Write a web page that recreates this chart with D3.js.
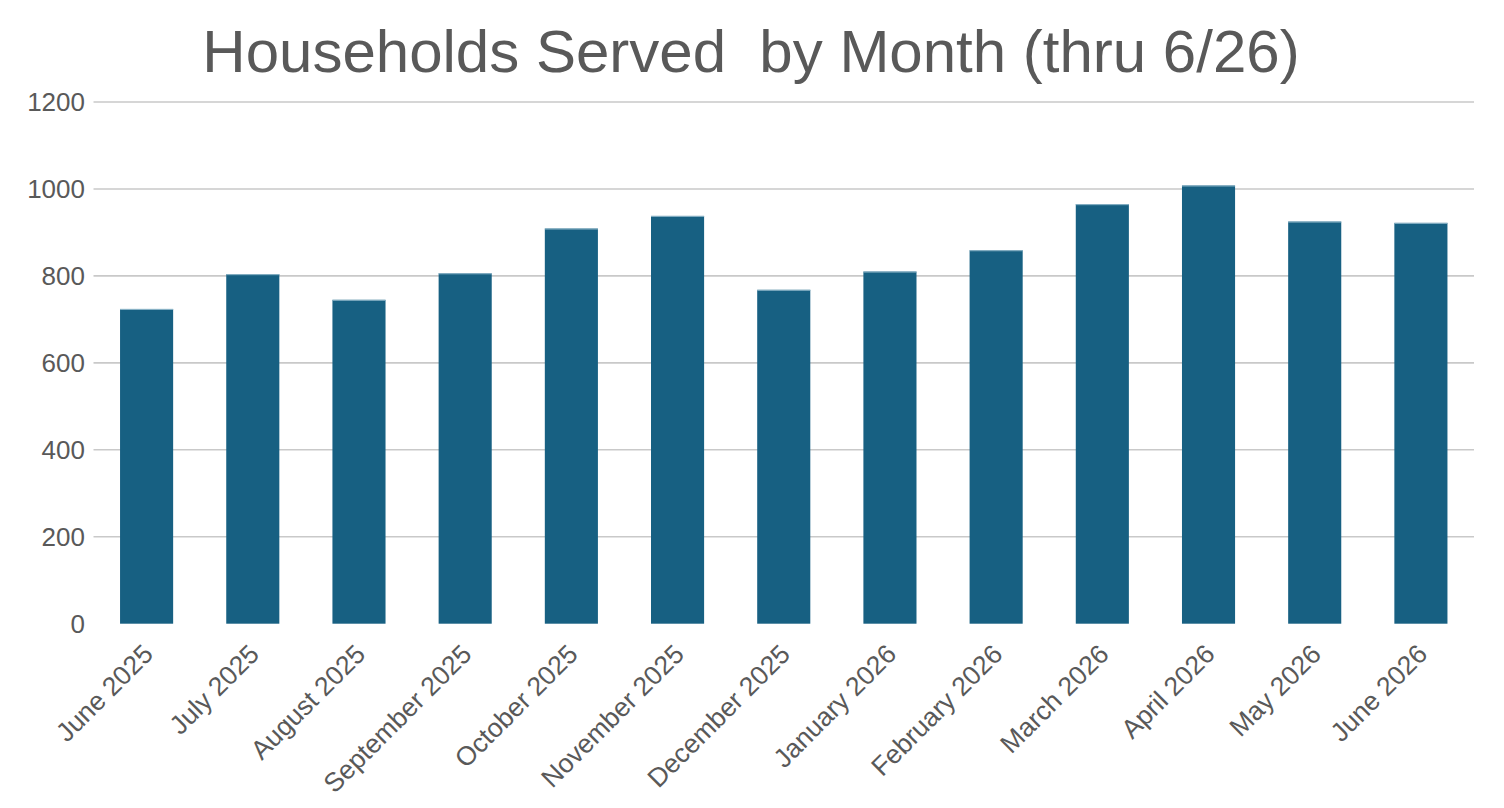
<!DOCTYPE html>
<html>
<head>
<meta charset="utf-8">
<script src="https://cdn.jsdelivr.net/npm/d3@7/dist/d3.min.js"></script>
<style>
  html, body { margin: 0; padding: 0; background: #fff; }
  svg { display: block; font-family: "Liberation Sans", Arial, sans-serif; }
</style>
</head>
<body>
<svg id="chart" width="1504" height="808"></svg>
<script>
const categories = ["June 2025", "July 2025", "August 2025", "September 2025", "October 2025",
  "November 2025", "December 2025", "January 2026", "February 2026", "March 2026",
  "April 2026", "May 2026", "June 2026"];
const households = [724, 804, 745, 806, 909, 938, 768, 810, 859, 965, 1008, 925, 922];
const yTicks = [0, 200, 400, 600, 800, 1000, 1200];
const title = "Households Served  by Month (thru 6/26)";

const svg = d3.select("#chart");
const plotLeft = 93.5, plotRight = 1474, plotTop = 102, plotBottom = 623.7;

const x = d3.scaleBand().domain(categories).range([plotLeft, plotRight]).paddingInner(0.5).paddingOuter(0.25);
const y = d3.scaleLinear().domain([0, 1200]).range([plotBottom, plotTop]);

// title
svg.append("text")
  .attr("x", 751).attr("y", 72)
  .attr("text-anchor", "middle")
  .attr("fill", "#595959")
  .style("font-size", "60px")
  .style("white-space", "pre")
  .text(title);

// gridlines
svg.append("g").selectAll("line")
  .data(yTicks.filter(d => d > 0))
  .join("line")
  .attr("x1", plotLeft).attr("x2", plotRight)
  .attr("y1", d => y(d)).attr("y2", d => y(d))
  .attr("stroke", "#c9c9c9")
  .attr("stroke-width", 1.6);

// y axis labels
const yAxis = d3.axisLeft(y).tickValues(yTicks).tickFormat(d3.format("d")).tickSize(0).tickPadding(0);
const yg = svg.append("g").attr("transform", "translate(85,0)").call(yAxis);
yg.select(".domain").remove();
yg.selectAll("text")
  .attr("fill", "#595959")
  .style("font-size", "26px")
  .style("font-family", "'Liberation Sans', Arial, sans-serif");

const barData = categories.map((c, i) => ({ c, v: households[i] }));

// bars
svg.append("g").selectAll("rect")
  .data(barData)
  .join("rect")
  .attr("x", d => x(d.c))
  .attr("width", x.bandwidth())
  .attr("y", d => y(d.v))
  .attr("height", d => y(0) - y(d.v))
  .attr("fill", "#176082");

// bar top highlight edge
svg.append("g").selectAll("line")
  .data(barData)
  .join("line")
  .attr("x1", d => x(d.c)).attr("x2", d => x(d.c) + x.bandwidth())
  .attr("y1", d => y(d.v) + 0.5).attr("y2", d => y(d.v) + 0.5)
  .attr("stroke", "#8fb6c9").attr("stroke-width", 1);

// x axis labels
const xAxis = d3.axisBottom(x).tickSize(0).tickPadding(0);
const xg = svg.append("g").attr("transform", `translate(0,${plotBottom})`).call(xAxis);
xg.select(".domain").remove();
xg.selectAll("text")
  .attr("fill", "#595959")
  .style("font-size", "26.5px")
  .style("font-family", "'Liberation Sans', Arial, sans-serif")
  .attr("text-anchor", "end")
  .attr("dy", null)
  .attr("y", null)
  .attr("transform", "translate(8,32) rotate(-45)");
</script>
</body>
</html>
